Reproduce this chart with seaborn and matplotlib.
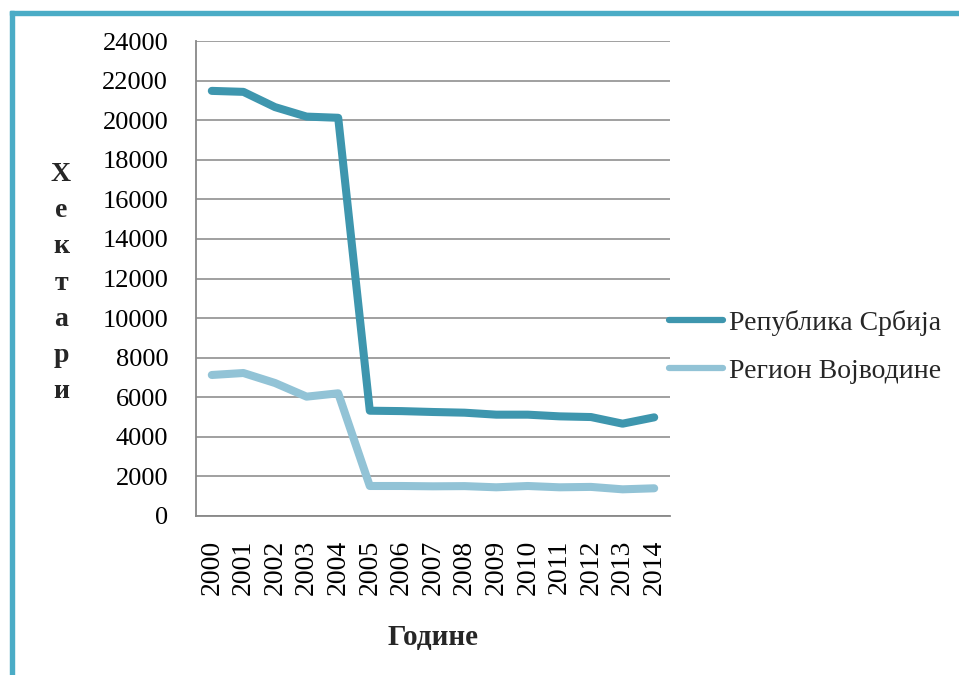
import matplotlib
matplotlib.use("Agg")
import matplotlib.pyplot as plt
from matplotlib.patches import Rectangle
import seaborn as sns
import pandas as pd
import numpy as np

years = [str(y) for y in range(2000, 2015)]
srbija = [21480, 21430, 20660, 20180, 20120, 5320, 5300, 5255, 5220, 5120,
          5120, 5035, 5000, 4665, 4985]
vojvodina = [7125, 7225, 6720, 6030, 6200, 1516, 1516, 1500, 1510, 1450,
             1516, 1450, 1470, 1348, 1400]
series_names = ["Република Србија", "Регион Војводине"]
colors = ["#3E96AE", "#92C3D6"]

df = pd.DataFrame({
    "idx": list(range(len(years))) * 2,
    "value": srbija + vojvodina,
    "series": [series_names[0]] * len(years) + [series_names[1]] * len(years),
})

sns.set_theme(style="white")
plt.rcParams["font.family"] = ["Liberation Serif", "DejaVu Serif"]

fig = plt.figure(figsize=(9.59, 6.75), dpi=100)
ax = fig.add_axes([196 / 959, 1 - 516 / 675, (670 - 196) / 959, (516 - 41) / 675])

sns.lineplot(data=df, x="idx", y="value", hue="series", palette=colors,
             linewidth=5.8, ax=ax, legend=False, sort=False)
for ln in ax.lines:
    ln.set_solid_capstyle("round")
    ln.set_solid_joinstyle("round")

ax.set_xlim(-0.5, len(years) - 0.5)
ax.set_ylim(0, 24000)
ax.set_yticks(np.arange(0, 24001, 2000))
ax.set_yticklabels([str(v) for v in range(0, 24001, 2000)], fontsize=19)
ax.set_xticks(range(len(years)))
ax.set_xticklabels(years, rotation=90, fontsize=20)
ax.set_xticks(np.arange(-0.5, len(years), 1.0), minor=True)
ax.tick_params(axis="x", which="major", length=0, pad=17, labelcolor="black")
ax.tick_params(axis="x", which="minor", length=6, width=1.3, color="#888888", direction="out")
ax.tick_params(axis="y", which="major", length=7, width=1.3, color="#888888",
               direction="out", pad=13, labelcolor="black")

ax.grid(axis="y", color="#999999", linewidth=1.3)
ax.set_axisbelow(True)
for side in ["top", "right"]:
    ax.spines[side].set_visible(False)
for side in ["left", "bottom"]:
    ax.spines[side].set_color("#888888")
    ax.spines[side].set_linewidth(1.3)
ax.set_xlabel("")
ax.set_ylabel("")

# legend on the right
handles = [plt.Line2D([0], [0], color=c, linewidth=4.5, solid_capstyle="round") for c in colors]
fig.legend(handles, series_names, loc="center left", bbox_to_anchor=(669 / 959, 1 - 347 / 675),
           frameon=False, fontsize=20, handlelength=1.95, handletextpad=0.22,
           labelspacing=0.8, borderaxespad=0, borderpad=0)

# axis titles
fig.text(433 / 959, 1 - 637 / 675, "Године", ha="center", va="center",
         fontsize=21, fontweight="bold")
fig.text(61 / 959, 1 - 283 / 675, "\n".join("Хектари"), ha="center", va="center",
         fontsize=20, fontweight="bold", linespacing=1.58)

# frame border on the top and left edges
border = "#4BACC6"
fig.patches.append(Rectangle((10 / 959, 0), 4 / 959, 1 - 11 / 675, transform=fig.transFigure,
                             color=border, zorder=10))
fig.patches.append(Rectangle((10 / 959, 1 - 15 / 675), 1 - 10 / 959, 4 / 675,
                             transform=fig.transFigure, color=border, zorder=10))

fig.savefig("out.png", dpi=100)
